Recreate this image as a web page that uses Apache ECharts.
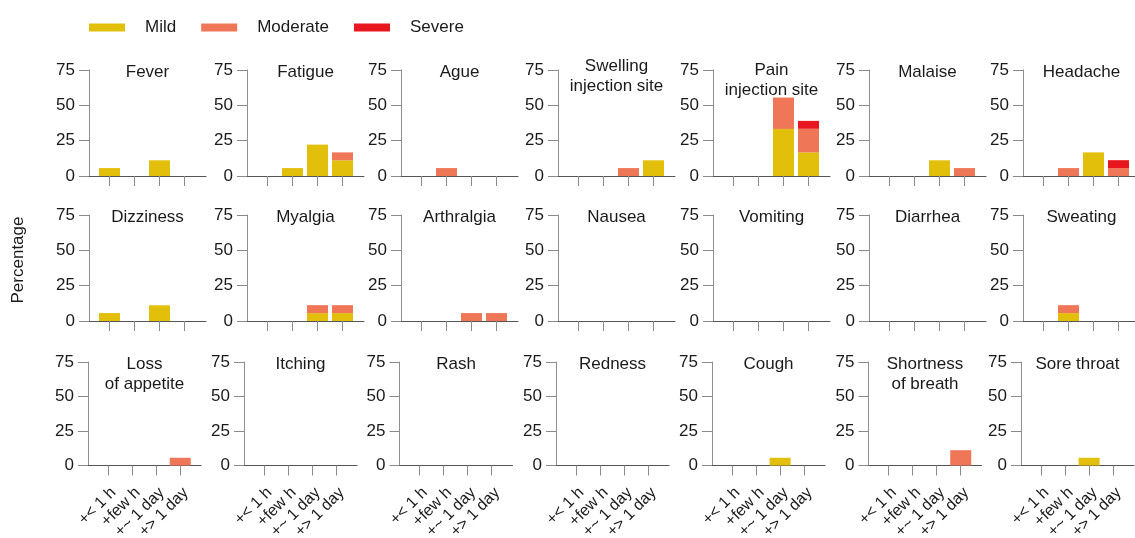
<!DOCTYPE html>
<html>
<head>
<meta charset="utf-8">
<script src="https://cdn.jsdelivr.net/npm/echarts@6/dist/echarts.min.js"></script>
<style>
html,body{margin:0;padding:0;background:#fff;}
#chart{width:1135px;height:538px;}
</style>
</head>
<body>
<div id="chart"></div>
<script>
// ---- data ----
const categories = ['+< 1 h', '+few h', '+~ 1 day', '+> 1 day'];
const yTicks = [0, 25, 50, 75];
const symptoms = ['Fever', 'Fatigue', 'Ague', 'Swelling\ninjection site', 'Pain\ninjection site', 'Malaise', 'Headache',
  'Dizziness', 'Myalgia', 'Arthralgia', 'Nausea', 'Vomiting', 'Diarrhea', 'Sweating',
  'Loss\nof appetite', 'Itching', 'Rash', 'Redness', 'Cough', 'Shortness\nof breath', 'Sore throat'];
const severities = ['Mild', 'Moderate', 'Severe'];
const mild = [
  [5.6, 0, 11.1, 0], [0, 5.6, 22.2, 11.1], [0, 0, 0, 0], [0, 0, 0, 11.1], [0, 0, 33.3, 16.7], [0, 0, 11.1, 0], [0, 0, 16.7, 0],
  [5.6, 0, 11.1, 0], [0, 0, 5.6, 5.6], [0, 0, 0, 0], [0, 0, 0, 0], [0, 0, 0, 0], [0, 0, 0, 0], [0, 5.6, 0, 0],
  [0, 0, 0, 0], [0, 0, 0, 0], [0, 0, 0, 0], [0, 0, 0, 0], [0, 0, 5.6, 0], [0, 0, 0, 0], [0, 0, 5.6, 0]
];
const moderate = [
  [0, 0, 0, 0], [0, 0, 0, 5.6], [0, 5.6, 0, 0], [0, 0, 5.6, 0], [0, 0, 22.2, 16.7], [0, 0, 0, 5.6], [0, 5.6, 0, 5.6],
  [0, 0, 0, 0], [0, 0, 5.6, 5.6], [0, 0, 5.6, 5.6], [0, 0, 0, 0], [0, 0, 0, 0], [0, 0, 0, 0], [0, 5.6, 0, 0],
  [0, 0, 0, 5.6], [0, 0, 0, 0], [0, 0, 0, 0], [0, 0, 0, 0], [0, 0, 0, 0], [0, 0, 0, 11.1], [0, 0, 0, 0]
];
const severe = [
  [0, 0, 0, 0], [0, 0, 0, 0], [0, 0, 0, 0], [0, 0, 0, 0], [0, 0, 0, 5.6], [0, 0, 0, 0], [0, 0, 0, 5.6],
  [0, 0, 0, 0], [0, 0, 0, 0], [0, 0, 0, 0], [0, 0, 0, 0], [0, 0, 0, 0], [0, 0, 0, 0], [0, 0, 0, 0],
  [0, 0, 0, 0], [0, 0, 0, 0], [0, 0, 0, 0], [0, 0, 0, 0], [0, 0, 0, 0], [0, 0, 0, 0], [0, 0, 0, 0]
];

// ---- layout / style ----
const colors = ['#E2BF0B', '#F07658', '#E8171F'];
const FONT = '"Liberation Sans", Arial, Helvetica, sans-serif';
const colX = [
  [89, 247, 401, 558, 713, 869, 1023],
  [89, 247, 401, 558, 713, 869, 1023],
  [88, 244, 399.5, 556, 712, 868.5, 1021]
];
const colW = [117, 117, 113];
const rowTop = [70, 215, 362];
const rowBottom = [176, 321, 465.5];
const titleShift = {3: -5.5, 4: -1.5};
const PADL = 0.82, PADR = 0.86; // axis extension beyond first/last tick, in category units

const grids = [], xAxes = [], yAxes = [], titles = [], series = [];
const seriesData = [mild, moderate, severe];
symptoms.forEach((name, i) => {
  const r = Math.floor(i / 7), c = i % 7;
  const left = colX[r][c], w = colW[r], top = rowTop[r], h = rowBottom[r] - rowTop[r];
  const unit = w / (3 + PADL + PADR);
  const gA = grids.length;
  // visible frame grid: axis lines, ticks, labels
  grids.push({left: left, top: top, width: w, height: h, outerBoundsMode: 'none', containLabel: false});
  // inner grid holding the bars on a category axis
  grids.push({left: left + (PADL - 0.5) * unit, top: top, width: 4 * unit, height: h, outerBoundsMode: 'none', containLabel: false});
  xAxes.push({
    type: 'value', gridIndex: gA, min: -PADL, max: 3 + PADR,
    splitLine: {show: false},
    axisLine: {show: true, onZero: false, lineStyle: {color: '#555', width: 1}},
    axisTick: {show: true, customValues: [0, 1, 2, 3], length: 10, lineStyle: {color: '#8a8a8a', width: 1}},
    axisLabel: {
      show: r === 2, customValues: [0, 1, 2, 3], rotate: 45, margin: 19, verticalAlign: 'top',
      formatter: v => categories[Math.round(v)],
      fontSize: 16, fontFamily: FONT, color: '#1a1a1a'
    }
  });
  xAxes.push({
    type: 'category', gridIndex: gA + 1, data: categories, boundaryGap: true,
    axisLine: {show: false}, axisTick: {show: false}, axisLabel: {show: false}, splitLine: {show: false}
  });
  yAxes.push({
    type: 'value', gridIndex: gA, min: 0, max: 75, interval: 25,
    splitLine: {show: false},
    axisLine: {show: true, onZero: false, lineStyle: {color: '#8f8f8f', width: 1}},
    axisTick: {show: true, length: 10, lineStyle: {color: '#8a8a8a', width: 1}},
    axisLabel: {margin: 14, fontSize: 17, fontFamily: FONT, color: '#1a1a1a'}
  });
  yAxes.push({
    type: 'value', gridIndex: gA + 1, min: 0, max: 75, interval: 25,
    axisLine: {show: false}, axisTick: {show: false}, axisLabel: {show: false}, splitLine: {show: false}
  });
  titles.push({
    text: name, left: left + w / 2, top: top - 7.7 + (titleShift[i] || 0), textAlign: 'center', padding: 0,
    textStyle: {fontSize: 17, fontWeight: 'normal', fontFamily: FONT, color: '#1a1a1a', lineHeight: 20}
  });
  severities.forEach((s, k) => {
    series.push({
      type: 'bar', name: s, stack: 'st' + i, xAxisIndex: gA + 1, yAxisIndex: gA + 1,
      barWidth: 21,
      itemStyle: {color: colors[k]},
      data: seriesData[k][i],
      animation: false
    });
  });
});

const chart = echarts.init(document.getElementById('chart'), null, {renderer: 'canvas'});
chart.setOption({
  backgroundColor: '#fff',
  animation: false,
  textStyle: {fontFamily: FONT},
  title: titles,
  legend: {
    data: severities, left: 89, top: 19, padding: 0,
    icon: 'rect', itemWidth: 36, itemHeight: 8, itemGap: 25,
    textStyle: {fontSize: 17, fontFamily: FONT, color: '#1a1a1a', padding: [0, 0, 0, 15]},
    selectedMode: false
  },
  graphic: [{
    type: 'text', x: 18.5, y: 260, rotation: Math.PI / 2,
    style: {text: 'Percentage', font: '17px ' + FONT, fill: '#1a1a1a', textAlign: 'center', textVerticalAlign: 'middle'}
  }],
  grid: grids,
  xAxis: xAxes,
  yAxis: yAxes,
  series: series
});
</script>
</body>
</html>
